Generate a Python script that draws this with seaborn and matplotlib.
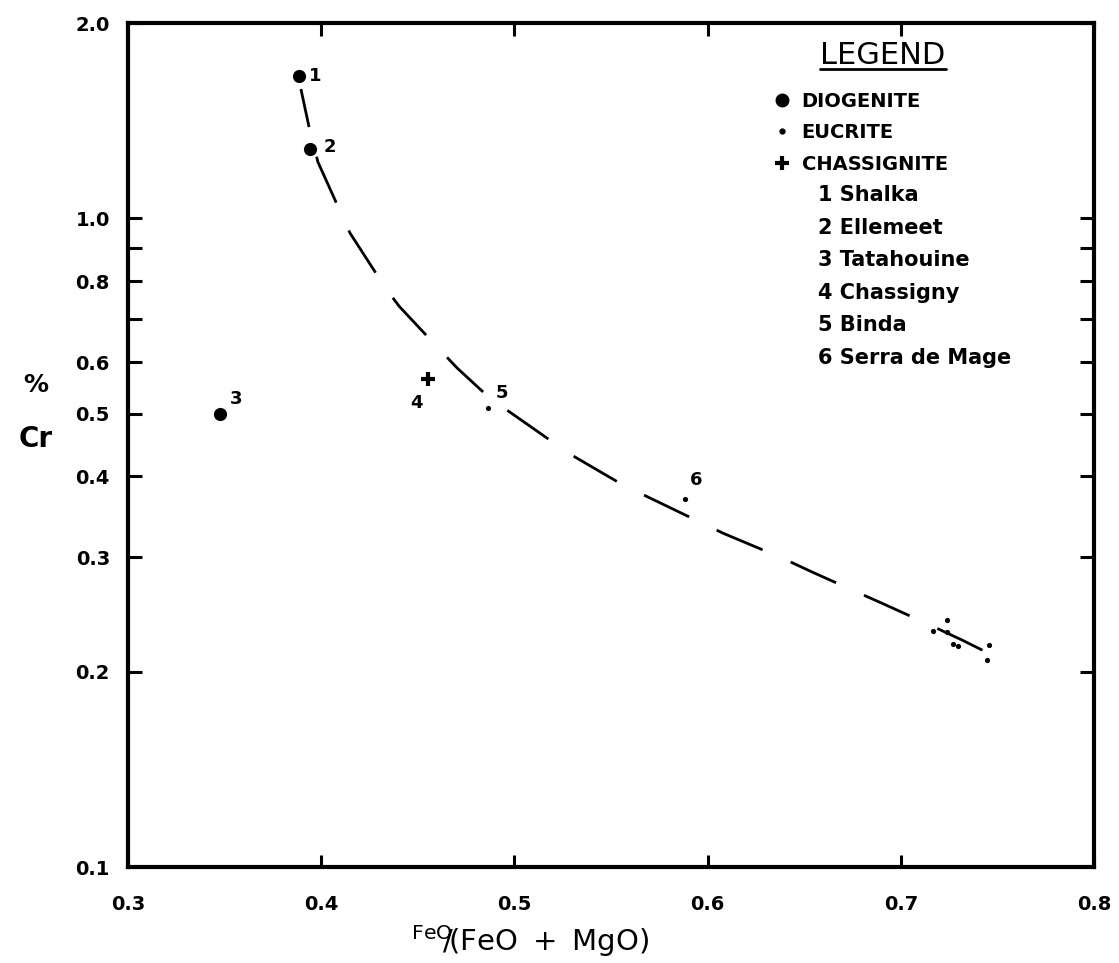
import matplotlib
matplotlib.use("Agg")
import matplotlib.pyplot as plt
from matplotlib.lines import Line2D
import pandas as pd
import seaborn as sns

# ---------------- data ----------------
diogenite_x = [0.3885, 0.3942, 0.3476]
diogenite_cr = [1.657, 1.279, 0.499]
diogenite_id = ["1", "2", "3"]

chassignite_x = [0.4553]
chassignite_cr = [0.565]
chassignite_id = ["4"]

eucrite_x = [0.4863, 0.5883, 0.7167, 0.7237, 0.7237, 0.7272, 0.7298, 0.7458, 0.7448]
eucrite_cr = [0.510, 0.369, 0.231, 0.240, 0.230, 0.221, 0.219, 0.220, 0.2085]
eucrite_id = ["5", "6", "", "", "", "", "", "", ""]

# hand-drawn trend curve
curve_x = [0.3895, 0.3937, 0.3983, 0.4102, 0.4149, 0.4330, 0.4403, 0.4610,
           0.4703, 0.4879, 0.4946, 0.5184, 0.5314, 0.5562, 0.5702, 0.5971,
           0.6080, 0.6385, 0.6540, 0.6773, 0.6903, 0.7141, 0.7317, 0.7410, 0.7550]
curve_cr = [1.582, 1.383, 1.221, 1.019, 0.949, 0.783, 0.732, 0.629,
            0.588, 0.526, 0.510, 0.455, 0.4285, 0.388, 0.3705, 0.339,
            0.327, 0.2995, 0.285, 0.2653, 0.255, 0.2368, 0.2238, 0.2168, 0.2063]

legend_title = "LEGEND"
legend_types = ["DIOGENITE", "EUCRITE", "CHASSIGNITE"]
meteorite_names = ["1 Shalka", "2 Ellemeet", "3 Tatahouine",
                   "4 Chassigny", "5 Binda", "6 Serra de Mage"]

x_ticks = [0.3, 0.4, 0.5, 0.6, 0.7, 0.8]
x_ticklabels = ["0.3", "0.4", "0.5", "0.6", "0.7", "0.8"]
y_ticks = [0.1, 0.2, 0.3, 0.4, 0.5, 0.6, 0.7, 0.8, 0.9, 1.0, 2.0]
y_ticklabels = ["0.1", "0.2", "0.3", "0.4", "0.5", "0.6", "", "0.8", "", "1.0", "2.0"]

# ---------------- styling ----------------
sns.set_style("white")
plt.rcParams["font.family"] = ["DejaVu Sans"]
plt.rcParams["lines.scale_dashes"] = False
plt.rcParams["mathtext.default"] = "regular"
for k in ("text.color", "axes.labelcolor", "xtick.color", "ytick.color",
          "axes.edgecolor"):
    plt.rcParams[k] = "black"

# label offsets in points (label relative to its point)
label_offsets = {"1": (11.5, 0), "2": (14.5, 1.5), "3": (11.5, 11),
                 "4": (-8.5, -17), "5": (10, 11), "6": (8, 14)}

fig = plt.figure(figsize=(11.19, 9.63), dpi=100)
ax = fig.add_axes([128 / 1119, 1 - 867 / 963, (1094 - 128) / 1119, (867 - 23) / 963])

df_dio = pd.DataFrame({"x": diogenite_x, "cr": diogenite_cr, "id": diogenite_id})
df_cha = pd.DataFrame({"x": chassignite_x, "cr": chassignite_cr, "id": chassignite_id})
df_euc = pd.DataFrame({"x": eucrite_x, "cr": eucrite_cr, "id": eucrite_id})
df_curve = pd.DataFrame({"x": curve_x, "cr": curve_cr})

sns.lineplot(data=df_curve, x="x", y="cr", sort=False, estimator=None,
             color="black", lw=2.0, linestyle=(8, (36, 22)), ax=ax)
sns.scatterplot(data=df_dio, x="x", y="cr", marker="o", s=90, color="black",
                edgecolor="black", linewidth=0, ax=ax)
sns.scatterplot(data=df_euc, x="x", y="cr", marker="o", s=14, color="black",
                edgecolor="black", linewidth=0, ax=ax)
sns.scatterplot(data=df_cha, x="x", y="cr", marker="+", s=110, color="black",
                linewidth=3, ax=ax)

for df in (df_dio, df_cha, df_euc):
    for _, r in df.iterrows():
        if r["id"]:
            ax.annotate(r["id"], (r["x"], r["cr"]), xytext=label_offsets[r["id"]],
                        textcoords="offset points", ha="center", va="center",
                        fontsize=13, fontweight="bold")

ax.set_yscale("log")
ax.set_xlim(0.3, 0.8)
ax.set_ylim(0.1, 2.0)
ax.set_xticks(x_ticks)
ax.set_xticklabels(x_ticklabels)
ax.set_yticks(y_ticks)
ax.set_yticklabels(y_ticklabels)
ax.minorticks_off()
ax.tick_params(axis="both", which="major", direction="in", width=2.2,
               top=True, right=True, bottom=True, left=True, labelsize=14)
ax.tick_params(axis="y", length=10, pad=13)
ax.tick_params(axis="x", length=9, pad=20)
for lab in ax.get_xticklabels() + ax.get_yticklabels():
    lab.set_fontweight("bold")
for sp in ax.spines.values():
    sp.set_linewidth(3)
    sp.set_color("black")

ax.set_xlabel(r"$^{\mathregular{FeO}}\!\!/\!\mathregular{(FeO\ +\ MgO)}$", fontsize=21)
ax.xaxis.set_label_coords(0.416, -0.067)
ax.set_ylabel("Cr", fontsize=20, fontweight="bold", rotation=0, va="center", ha="center")
ax.yaxis.set_label_coords(-0.096, 0.507)
ax.text(-0.096, 0.571, "%", transform=ax.transAxes, fontsize=18,
        fontweight="bold", ha="center", va="center")

# legend heading (underlined)
title = ax.text(0.7816, 0.962, legend_title, transform=ax.transAxes,
                fontsize=22, ha="center", va="center")

# legend: categories with markers
cat_handles = [
    Line2D([], [], marker="o", ls="", color="black", markersize=9),
    Line2D([], [], marker="o", ls="", color="black", markersize=3.5),
    Line2D([], [], marker="+", ls="", color="black", markersize=10, mew=3),
]
leg1 = ax.legend(cat_handles, legend_types, loc="upper left",
                 bbox_to_anchor=(0.657, 0.930), frameon=False, borderpad=0,
                 handlelength=1.0, handletextpad=0.5, labelspacing=0.64,
                 prop={"size": 14, "weight": "bold"})
ax.add_artist(leg1)

name_handles = [Line2D([], [], ls="", marker=None) for _ in meteorite_names]
leg2 = ax.legend(name_handles, meteorite_names, loc="upper left",
                 bbox_to_anchor=(0.704, 0.820), frameon=False, borderpad=0,
                 handlelength=0, handletextpad=0, labelspacing=0.60,
                 prop={"size": 15, "weight": "bold"})

# underline the legend heading
fig.canvas.draw()
tb = title.get_window_extent(fig.canvas.get_renderer())
inv = fig.transFigure.inverted()
(x0, y0), (x1, _) = inv.transform([(tb.x0, tb.y0), (tb.x1, tb.y0)])
fig.add_artist(Line2D([x0, x1], [y0 + 0.001, y0 + 0.001], color="black",
                      lw=2.0, transform=fig.transFigure))

fig.savefig("out.png", dpi=100, facecolor="white")
